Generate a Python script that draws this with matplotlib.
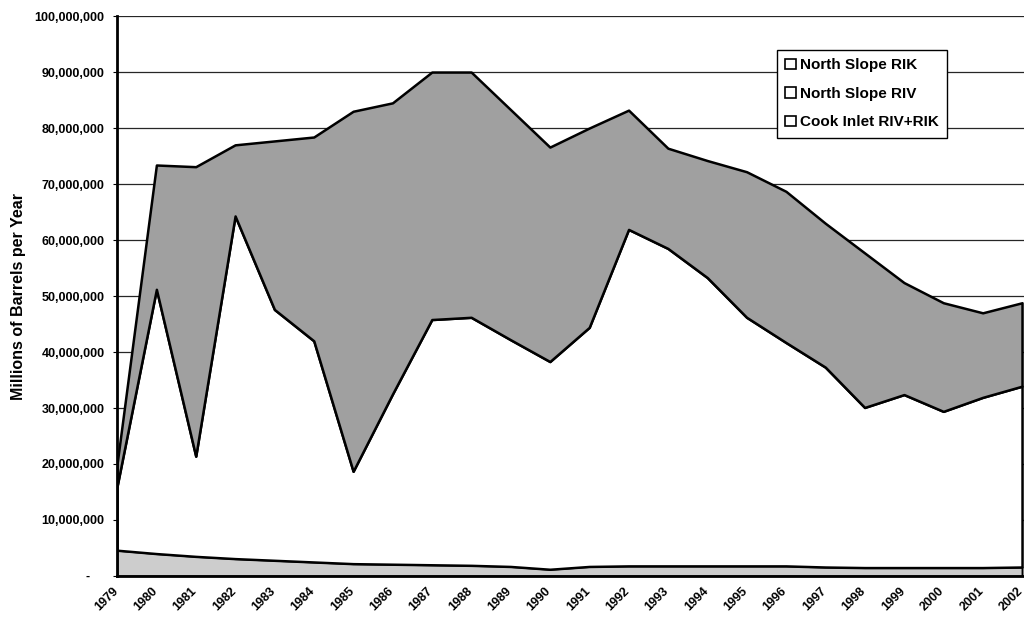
import matplotlib
matplotlib.use("Agg")
import matplotlib.pyplot as plt
from matplotlib.patches import Patch
from matplotlib.ticker import FuncFormatter
from matplotlib.transforms import ScaledTranslation
import numpy as np

# Alaska royalty oil volumes, millions of barrels per year
years = list(range(1979, 2003))
cook_inlet = [4.6, 4.0, 3.5, 3.1, 2.8, 2.5, 2.2, 2.1, 2.0, 1.9, 1.7, 1.2,
              1.7, 1.8, 1.8, 1.8, 1.8, 1.8, 1.6, 1.5, 1.5, 1.5, 1.5, 1.6]
north_slope_riv = [11.4, 47.2, 17.9, 61.2, 44.8, 39.5, 16.5, 30.4, 43.8, 44.3,
                   40.5, 37.1, 42.7, 60.1, 56.7, 51.5, 44.4, 39.9, 35.7, 28.6,
                   30.9, 27.9, 30.4, 32.3]
north_slope_rik = [4.0, 22.2, 51.7, 12.7, 30.1, 36.4, 64.3, 52.0, 44.2, 43.8,
                   41.1, 38.3, 35.6, 21.3, 17.9, 20.9, 26.0, 27.0, 25.7, 27.6,
                   20.0, 19.4, 15.1, 14.9]
legend_labels = ["North Slope RIK", "North Slope RIV", "Cook Inlet RIV+RIK"]
y_label = "Millions of Barrels per Year"

plt.rcParams['font.family'] = ['Liberation Sans', 'DejaVu Sans']
plt.rcParams['font.weight'] = 'bold'

fig = plt.figure(figsize=(10.24, 6.18), dpi=100)
ax = fig.add_axes([0.1143, 0.068, 0.8857, 0.906])

x = np.arange(len(years))
scale = 1e6
polys = ax.stackplot(x,
                     np.array(cook_inlet) * scale,
                     np.array(north_slope_riv) * scale,
                     np.array(north_slope_rik) * scale,
                     colors=['#cdcdcd', 'white', '#a0a0a0'],
                     edgecolor='black', linewidth=1.8, zorder=2)
polys[0].set_linewidth(1.4)

ax.set_xlim(0, 23.05)
ax.set_ylim(0, 100e6)
ax.set_yticks(np.arange(0, 100e6 + 1, 10e6))
ax.yaxis.set_major_formatter(
    FuncFormatter(lambda v, p: '-    ' if v == 0 else f'{int(round(v)):,}'))
ax.yaxis.grid(True, color='#262626', linewidth=0.9)
ax.set_axisbelow(True)

ax.tick_params(axis='y', labelsize=9, length=3, width=0.8, pad=6)
ax.tick_params(axis='x', length=0, pad=6)

ax.set_xticks(x)
ax.set_xticklabels([str(y) for y in years], rotation=45, ha='right',
                   va='top', rotation_mode='anchor', fontsize=9,
                   fontweight='bold')
# nudge the slanted year labels a little to the left of their ticks
shift = ScaledTranslation(-5 / 100, -1 / 100, fig.dpi_scale_trans)
for lbl in ax.get_xticklabels():
    lbl.set_transform(lbl.get_transform() + shift)

for side in ('top', 'right'):
    ax.spines[side].set_visible(False)
for side in ('left', 'bottom'):
    ax.spines[side].set_linewidth(2)
    ax.spines[side].set_color('black')

fig.text(19 / 1024, 1 - 297 / 618, y_label, rotation=90, ha='center',
         va='center', fontsize=11.5, fontweight='bold')

handles = [Patch(facecolor='white', edgecolor='black', linewidth=1.2)
           for _ in legend_labels]
leg = fig.legend(handles, legend_labels, loc='upper left',
                 bbox_to_anchor=(777 / 1024, 1 - 50 / 618),
                 bbox_transform=fig.transFigure, borderaxespad=0,
                 fontsize=11, handlelength=0.7, handleheight=0.7,
                 handletextpad=0.25, labelspacing=0.95, borderpad=0.55,
                 fancybox=False, framealpha=1, edgecolor='black')
leg.get_frame().set_linewidth(1.0)

fig.savefig('out.png', dpi=100)
